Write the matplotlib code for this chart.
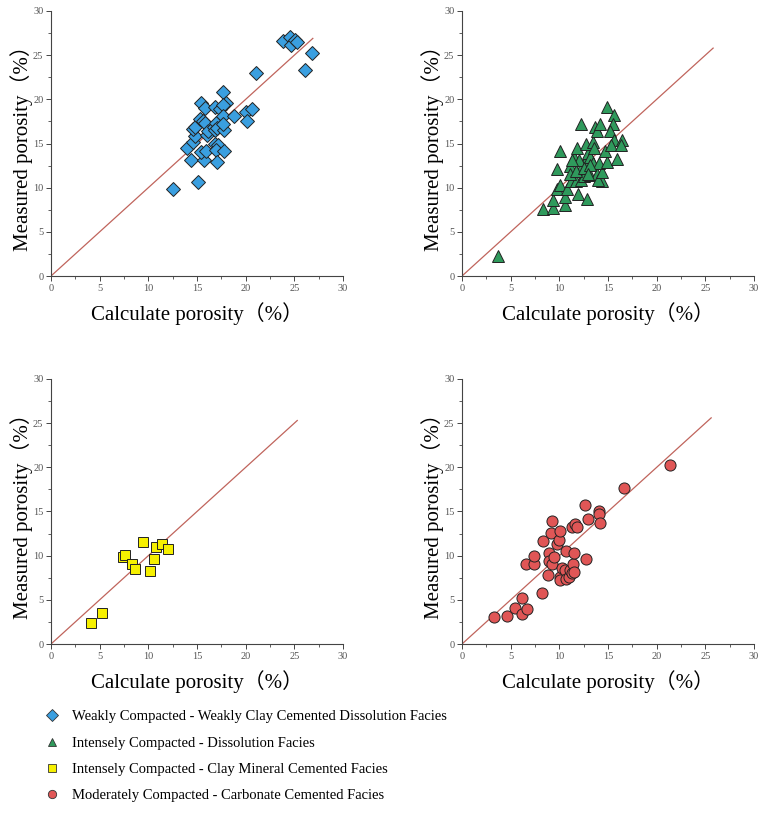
import matplotlib
matplotlib.use("Agg")
import matplotlib.pyplot as plt
from matplotlib.lines import Line2D
from matplotlib.ticker import MultipleLocator

# Weakly compacted - weakly clay cemented dissolution facies
blue_x = [12.5, 15.1, 14.4, 14.0, 14.6, 14.8, 14.6, 14.8, 15.3, 15.4, 15.8, 15.6,
          15.8, 15.7, 15.4, 15.9, 16.0, 16.1, 16.7, 17.0, 16.8, 17.05, 16.9, 17.4,
          17.7, 18.0, 17.7, 17.7, 17.8, 17.7, 16.9, 17.2, 17.0, 17.8, 17.05, 18.8,
          20.0, 20.1, 20.7, 21.1, 23.8, 24.6, 24.65, 25.1, 25.3, 26.8, 26.1]
blue_y = [9.9, 10.6, 13.1, 14.5, 15.2, 15.8, 16.6, 16.9, 17.8, 19.6, 19.0, 17.6,
          17.3, 13.1, 14.0, 14.2, 16.0, 16.4, 16.9, 17.3, 16.5, 16.7, 19.1, 18.9,
          20.8, 19.6, 19.4, 18.1, 16.5, 17.2, 15.0, 14.8, 14.3, 14.1, 12.9, 18.1,
          18.6, 17.6, 18.9, 23.0, 26.6, 27.1, 26.2, 26.7, 26.5, 25.2, 23.3]

# Intensely compacted - dissolution facies
green_x = [3.7, 8.3, 9.4, 10.6, 9.3, 10.6, 11.9, 12.8, 9.8, 10.1, 10.8, 11.2, 11.7,
           12.2, 12.5, 13.2, 13.9, 14.4, 14.0, 14.4, 9.8, 10.1, 11.1, 11.5, 11.8,
           12.2, 12.3, 12.7, 12.9, 12.7, 13.2, 13.5, 13.6, 13.5, 13.7, 13.9, 14.2,
           14.1, 14.9, 14.7, 14.9, 15.6, 15.5, 15.2, 15.6, 15.3, 15.9, 16.4, 16.3,
           11.1, 11.7, 12.0, 12.5, 13.2, 11.3, 12.9]
green_y = [2.3, 7.6, 7.7, 8.0, 8.6, 8.9, 9.3, 8.7, 9.9, 10.3, 9.9, 10.7, 10.7,
           10.9, 11.3, 11.4, 11.6, 10.7, 10.9, 11.8, 12.1, 14.2, 12.5, 13.5, 14.5,
           17.2, 12.4, 13.1, 13.9, 15.0, 13.5, 15.2, 14.5, 12.8, 16.9, 16.4, 17.2,
           12.8, 12.9, 14.1, 19.1, 18.2, 17.2, 16.4, 15.4, 14.8, 13.3, 15.4, 14.8,
           11.6, 11.9, 13.1, 12.2, 12.6, 13.1, 11.6]

# Intensely compacted - clay mineral cemented facies
yellow_x = [4.1, 5.2, 7.4, 7.6, 8.3, 8.6, 9.5, 10.2, 10.6, 10.75, 11.4, 12.0]
yellow_y = [2.4, 3.5, 9.9, 10.1, 9.1, 8.5, 11.5, 8.3, 9.6, 11.0, 11.3, 10.8]

# Moderately compacted - carbonate cemented facies
red_x = [3.3, 4.6, 5.4, 6.2, 6.2, 6.7, 8.2, 6.6, 7.4, 7.4, 8.3, 8.8, 8.9, 8.9,
         9.2, 9.1, 9.2, 9.5, 9.8, 10.0, 10.1, 10.1, 10.1, 10.3, 10.6, 10.7, 10.7,
         11.0, 11.1, 11.3, 11.4, 11.5, 11.5, 11.3, 11.6, 11.8, 12.7, 12.6, 12.9,
         14.1, 14.1, 14.2, 16.6, 21.4]
red_y = [3.1, 3.2, 4.1, 5.2, 3.4, 4.0, 5.8, 9.1, 9.1, 10.0, 11.7, 7.8, 10.3, 9.4,
         9.1, 12.6, 13.9, 9.9, 11.3, 11.8, 12.8, 7.6, 7.3, 8.6, 8.4, 10.5, 7.4,
         7.6, 8.4, 8.0, 9.1, 10.3, 8.2, 13.3, 13.6, 13.3, 9.6, 15.7, 14.2,
         15.1, 14.7, 13.7, 17.7, 20.3]

# end of the 1:1 reference line in each panel
line_end = [26.9, 25.8, 25.3, 25.6]

labels = ["Weakly Compacted - Weakly Clay Cemented Dissolution Facies",
          "Intensely Compacted - Dissolution Facies",
          "Intensely Compacted - Clay Mineral Cemented Facies",
          "Moderately Compacted - Carbonate Cemented Facies"]
colors = ["#3a9fe0", "#2f9a5c", "#f6f000", "#e05656"]
markers = ["D", "^", "s", "o"]
msizes = [7.5, 8.5, 7, 8]

xs = [blue_x, green_x, yellow_x, red_x]
ys = [blue_y, green_y, yellow_y, red_y]

serif = ["Liberation Serif", "Noto Sans CJK SC"]

fig = plt.figure(figsize=(7.68, 8.17), dpi=100)
W, H = 768.0, 817.0
boxes = [(51, 11), (462, 11), (51, 379), (462, 379)]
aw, ah = 292, 265

for i, (px, py) in enumerate(boxes):
    ax = fig.add_axes([px / W, 1 - (py + ah) / H, aw / W, ah / H])
    ax.plot([0, line_end[i]], [0, line_end[i]], color="#c0645c", lw=0.9, zorder=1)
    ax.plot(xs[i], ys[i], linestyle="none", marker=markers[i], ms=msizes[i],
            mfc=colors[i], mec="#222222", mew=0.7, zorder=2)
    ax.set_xlim(0, 30)
    ax.set_ylim(0, 30)
    ax.xaxis.set_major_locator(MultipleLocator(5))
    ax.yaxis.set_major_locator(MultipleLocator(5))
    ax.xaxis.set_minor_locator(MultipleLocator(2.5))
    ax.yaxis.set_minor_locator(MultipleLocator(2.5))
    for s in ["top", "right"]:
        ax.spines[s].set_visible(False)
    for s in ["left", "bottom"]:
        ax.spines[s].set_color("#444444")
        ax.spines[s].set_linewidth(0.8)
    ax.tick_params(which="major", length=3.5, width=0.7, color="#444444",
                   labelsize=7.5, labelcolor="#555555", pad=2)
    ax.tick_params(which="minor", length=2, width=0.6, color="#444444")
    for lab in ax.get_xticklabels() + ax.get_yticklabels():
        lab.set_family("Liberation Serif")
    ax.set_xlabel("Calculate porosity（%）", family=serif, fontsize=15, labelpad=7)
    ax.set_ylabel("Measured porosity（%）", family=serif, fontsize=15, labelpad=0)

handles = [Line2D([], [], linestyle="none", marker=m, ms=6, mfc=c, mec="#333333",
                  mew=0.6) for m, c in zip(markers, colors)]
fig.legend(handles, labels, loc="upper left", bbox_to_anchor=(30 / W, 1 - 697 / H),
           frameon=False, prop={"family": "Liberation Serif", "size": 10.5},
           handletextpad=0.75, labelspacing=0.9, handlelength=1.2)

fig.savefig("out.png", dpi=100)
